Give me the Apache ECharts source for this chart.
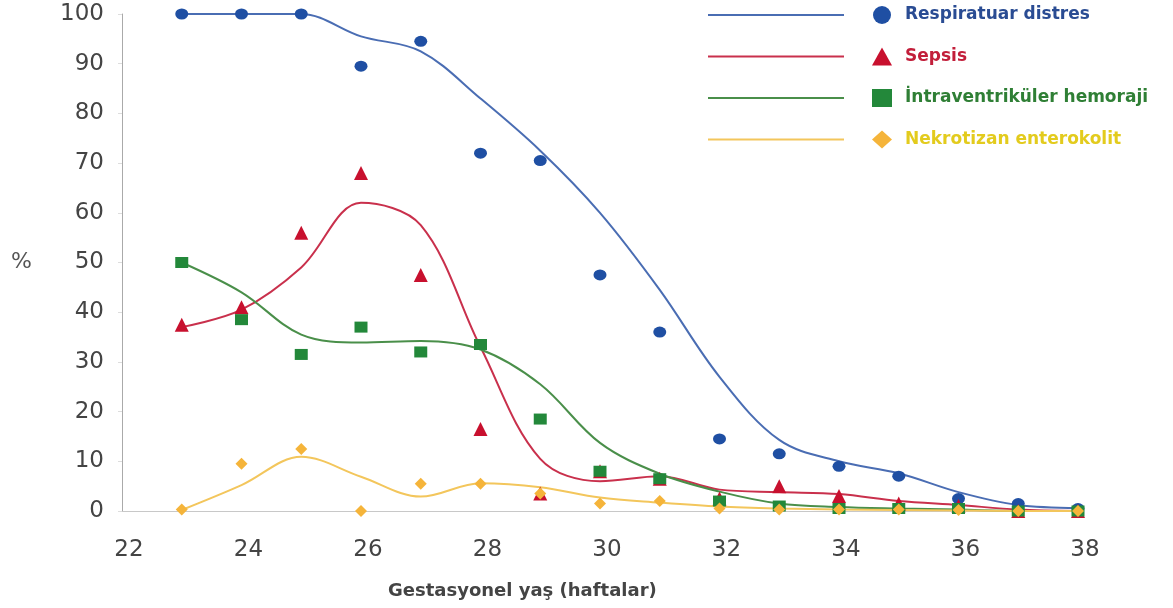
<!DOCTYPE html>
<html>
<head>
<meta charset="utf-8">
<script src="https://cdn.jsdelivr.net/npm/echarts@6/dist/echarts.min.js"></script>
<style>html,body{margin:0;padding:0;background:#fff}#c{width:1173px;height:608px}</style>
</head>
<body>
<div id="c"></div>
<script>
// Gestational weeks
var weeks = [23, 24, 25, 26, 27, 28, 29, 30, 31, 32, 33, 34, 35, 36, 37, 38];
// Observed points (%)
var rdsPoints    = [100, 100, 100, 89.5, 94.5, 72, 70.5, 47.5, 36, 14.5, 11.5, 9, 7, 2.5, 1.5, 0.5];
var sepsisPoints = [37.5, 41, 56, 68, 47.5, 16.5, 3.5, 8, 6.5, 2.5, 5, 3, 1.5, 1, 0, 0];
var ivhPoints    = [50, 38.5, 31.5, 37, 32, 33.5, 18.5, 8, 6.5, 2, 1, 0.5, 0.5, 0.5, 0, 0];
var necPoints    = [0.3, 9.5, 12.5, 0, 5.5, 5.5, 3.5, 1.5, 2, 0.5, 0.3, 0.3, 0.3, 0.2, 0, 0];
// Fitted trend curves (%)
var rdsTrend     = [100, 100, 100, 95.5, 92.5, 83, 72.5, 60, 44.5, 27, 14.3, 10, 7.6, 3.8, 1.2, 0.6];
var sepsisTrend  = [37, 40.5, 49, 62, 57.5, 33, 10.5, 6, 7, 4.3, 3.8, 3.4, 2, 1.2, 0.3, 0];
var ivhTrend     = [50, 44, 35.5, 33.9, 34.2, 32.5, 25.5, 13.7, 7.5, 3.9, 1.5, 0.8, 0.5, 0.3, 0, 0];
var necTrend     = [0.2, 5.2, 10.9, 6.9, 2.9, 5.6, 4.8, 2.7, 1.7, 0.9, 0.5, 0.3, 0.2, 0.1, 0, 0];
// Axis ticks
var xTicks = [22, 24, 26, 28, 30, 32, 34, 36, 38];
var yTicks = [0, 10, 20, 30, 40, 50, 60, 70, 80, 90, 100];

var names = ['Respiratuar distres', 'Sepsis', 'İntraventriküler hemoraji', 'Nekrotizan enterokolit'];
var trendNames = ['Respiratuar distres eğrisi', 'Sepsis eğrisi', 'İntraventriküler hemoraji eğrisi', 'Nekrotizan enterokolit eğrisi'];
var pointColors = ['#1f4fa3', '#c8102e', '#23883a', '#f5b43a'];
var lineColors = ['#4a6db3', '#c9304c', '#4a8f4a', '#f3c65c'];
var textColors = ['#2a4c93', '#c21e3a', '#2f7f35', '#e3cb1d'];
var symbols = ['circle', 'triangle', 'rect', 'diamond'];
var symbolSizes = [[13, 11], 14, [13, 11], 12];
var pointSets = [rdsPoints, sepsisPoints, ivhPoints, necPoints];
var trendSets = [rdsTrend, sepsisTrend, ivhTrend, necTrend];

function pairs(vals) { return weeks.map(function (w, i) { return [w, vals[i]]; }); }

var series = [];
trendSets.forEach(function (t, i) {
  series.push({
    name: trendNames[i], type: 'line', data: pairs(t), smooth: 0.35,
    symbol: 'none', z: 2,
    lineStyle: { color: lineColors[i], width: 2 },
    itemStyle: { color: lineColors[i] }
  });
});
pointSets.forEach(function (p, i) {
  series.push({
    name: names[i], type: 'scatter', data: pairs(p), symbol: symbols[i],
    symbolSize: symbolSizes[i], z: 3,
    itemStyle: { color: pointColors[i], opacity: 1 }
  });
});

var chart = echarts.init(document.getElementById('c'));
chart.setOption({
  animation: false,
  backgroundColor: '#fff',
  title: {
    text: 'Gestasyonel yaş (haftalar)', left: 388, top: 582, padding: 0,
    textStyle: { fontFamily: 'DejaVu Sans', fontSize: 18, fontWeight: 'bold', color: '#444' }
  },
  grid: { left: 122, right: 95, top: 14, bottom: 97, containLabel: false },
  legend: [
    {
      data: names.map(function (n, i) { return { name: n, textStyle: { color: textColors[i] } }; }),
      orient: 'vertical', left: 872, top: 6, padding: 0,
      itemWidth: 20, itemHeight: 18, itemGap: 23.5,
      textStyle: { fontFamily: 'DejaVu Sans', fontSize: 17, fontWeight: 'bold', lineHeight: 18, padding: [0, 0, 0, 8] }
    },
    {
      data: trendNames.map(function (n) { return { name: n, icon: 'path://M0,0L136,0L136,2L0,2Z' }; }),
      orient: 'vertical', left: 708, top: 14, padding: 0,
      itemWidth: 136, itemHeight: 18, itemGap: 39.5, symbolKeepAspect: true,
      formatter: function () { return ''; },
      textStyle: { fontSize: 10, lineHeight: 18 }
    }
  ],
  xAxis: {
    type: 'value', min: 22, max: 38, interval: 2,
    axisLine: { show: true, lineStyle: { color: '#c8c8c8', width: 1 } },
    axisTick: { show: false },
    splitLine: { show: false },
    axisLabel: {
      fontFamily: 'DejaVu Sans', fontSize: 23, color: '#444', margin: 28,
      padding: [0, 0, 0, 14], customValues: xTicks
    }
  },
  yAxis: {
    type: 'value', min: 0, max: 100, interval: 10,
    name: '%', nameLocation: 'middle', nameRotate: 0, nameGap: 90,
    nameTextStyle: { fontFamily: 'DejaVu Sans', fontSize: 22, color: '#555' },
    axisLine: { show: true, lineStyle: { color: '#aaa', width: 1 } },
    axisTick: { show: true, length: 4, lineStyle: { color: '#ddd' } },
    splitLine: { show: false },
    axisLabel: { fontFamily: 'DejaVu Sans', fontSize: 23, color: '#444', margin: 18, customValues: yTicks }
  },
  series: series
});
</script>
</body>
</html>
